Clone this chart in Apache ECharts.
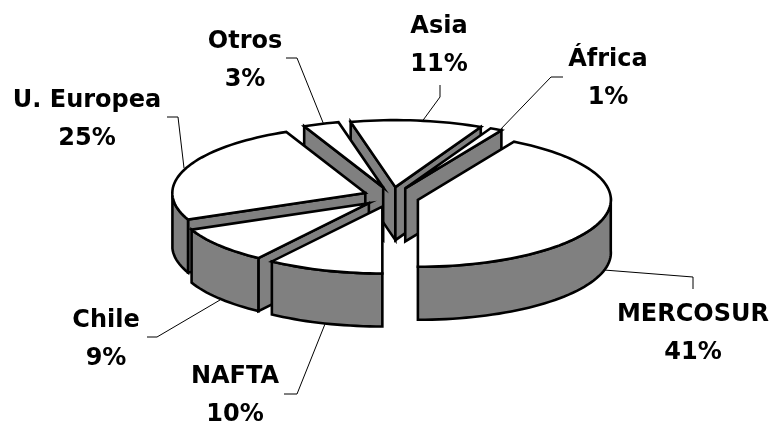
<!DOCTYPE html>
<html><head><meta charset="utf-8">
<style>html,body{margin:0;padding:0;background:#fff}#c{width:775px;height:427px}</style>
<script src="https://cdn.jsdelivr.net/npm/echarts@6/dist/echarts.min.js"></script>
</head><body><div id="c"></div>
<script>
// Data
var categories = ['MERCOSUR', 'NAFTA', 'Chile', 'U. Europea', 'Otros', 'Asia', 'África'];
var shares = [41, 10, 9, 25, 3, 11, 1];
// Layout
var GEO = {cx: 391, cy: 197, rx: 193, ry: 67, depth: 53, ex: 28, ey: 10, first: 32.4, warp: 2.6};
var paintOrder = [5, 6, 4, 3, 2, 1, 0];
var labelAt = [[693, 334], [235, 396], [106, 340], [87, 120], [245, 61], [439, 46], [608, 79]];
var leaderPts = [
  [[604, 270], [693, 277], [693, 289]],
  [[325, 324], [297, 394], [284, 394]],
  [[220, 300], [157, 337], [147, 337]],
  [[184, 168], [178, 117], [167, 117]],
  [[324, 125], [297, 58], [286, 58]],
  [[421, 123], [440, 97], [440, 85]],
  [[498, 132], [551, 77], [563, 77]]
];
var sum = shares.reduce(function (a, b) { return a + b; }, 0);
var D = Math.PI / 180;
var ranges = [];
(function () {
  var a = GEO.first;
  shares.forEach(function (s) { var b = a + s / sum * 360; ranges.push([a, b]); a = b; });
})();
function pt(c, th) {
  var w = th - GEO.warp * Math.pow(Math.abs(Math.cos(th * D / 2)), 0.75);
  return [c[0] + GEO.rx * Math.sin(w * D), c[1] - GEO.ry * Math.cos(w * D)];
}
function arc(c, a, b) { var r = [], n = Math.max(2, Math.ceil((b - a) / 2)); for (var i = 0; i <= n; i++) r.push(pt(c, a + (b - a) * i / n)); return r; }
function down(p) { return [p[0], p[1] + GEO.depth]; }
function poly(points, fill) {
  return {type: 'polygon', shape: {points: points}, style: {fill: fill, stroke: '#000', lineWidth: 2.6, lineJoin: 'miter'}};
}
function wall(p, q) { return poly([p, q, down(q), down(p)], '#808080'); }
function renderSlice(params, api) {
  var idx = api.value(0);
  var a = ranges[idx][0], b = ranges[idx][1], mid = (a + b) / 2;
  var c = [GEO.cx + GEO.ex * Math.sin(mid * D), GEO.cy - GEO.ey * Math.cos(mid * D)];
  var kids = [];
  var sa = Math.sin(a * D), sb = Math.sin(b * D);
  if (sa < -1e-6) kids.push(wall(c, pt(c, a)));
  if (sb > 1e-6) kids.push(wall(c, pt(c, b)));
  // outer wall: the part of the rim facing the viewer
  [[90, 270], [450, 630]].forEach(function (f) {
    var s = Math.max(a, f[0]), e = Math.min(b, f[1]);
    if (e > s) {
      var top = arc(c, s, e);
      kids.push(poly(top.concat(top.slice().reverse().map(down)), '#808080'));
    }
  });
  kids.push(poly([c].concat(arc(c, a, b)), '#fff'));
  return {type: 'group', children: kids};
}
function renderLabel(params, api) {
  var idx = api.value(0);
  return {type: 'group', children: [
    {type: 'polyline', shape: {points: leaderPts[idx]}, style: {fill: null, stroke: '#000', lineWidth: 1}},
    {type: 'text', x: labelAt[idx][0], y: labelAt[idx][1],
     style: {text: categories[idx] + '\n' + shares[idx] + '%', fill: '#000', align: 'center', verticalAlign: 'middle',
             font: 'bold 24px "DejaVu Sans"', lineHeight: 37.5}}
  ]};
}
var chart = echarts.init(document.getElementById('c'), null, {renderer: 'canvas'});
chart.setOption({
  animation: false,
  backgroundColor: '#fff',
  series: [
    {type: 'custom', coordinateSystem: 'none', renderItem: renderLabel, z: 1,
     data: categories.map(function (n, i) { return {name: n, value: [i, shares[i]]}; })},
    {type: 'custom', coordinateSystem: 'none', renderItem: renderSlice, z: 2,
     data: paintOrder.map(function (i) { return {name: categories[i], value: [i, shares[i]]}; })}
  ]
});
</script></body></html>
